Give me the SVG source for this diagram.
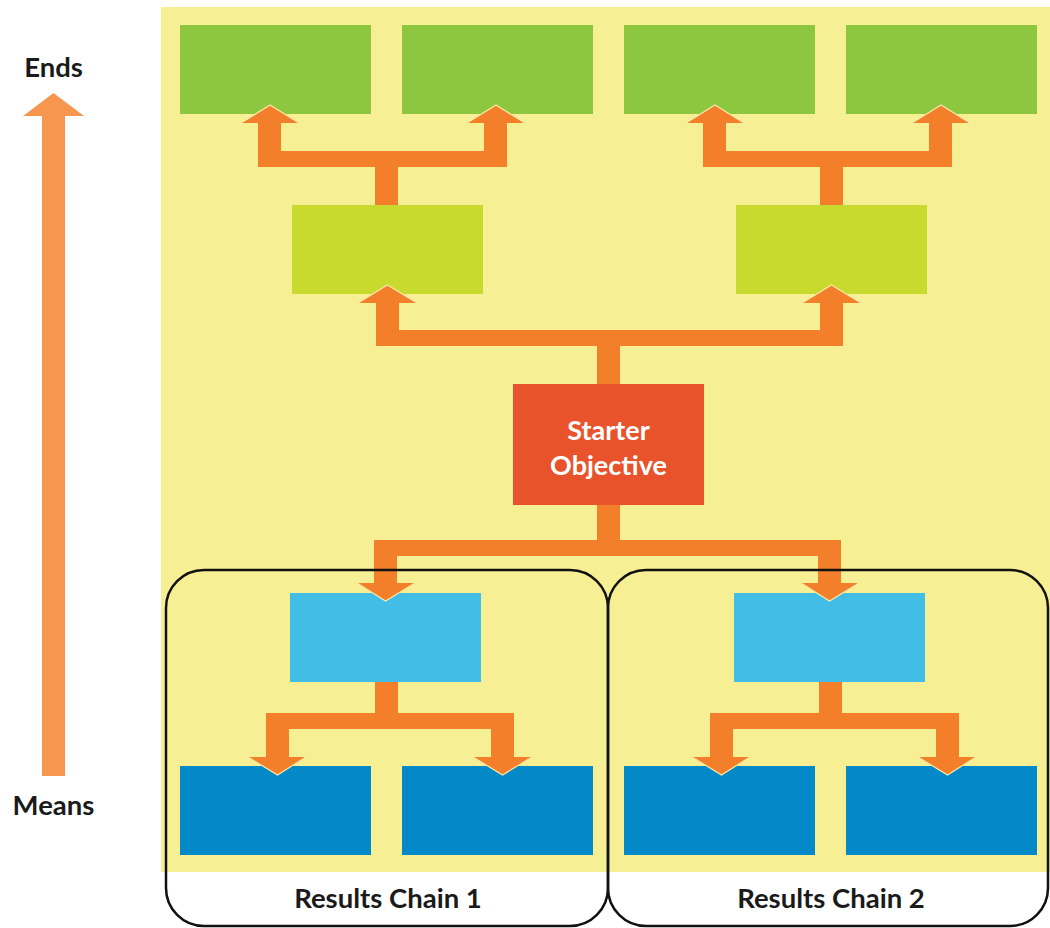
<svg xmlns="http://www.w3.org/2000/svg" width="1050" height="928" viewBox="0 0 1050 928">
<defs>
<style>
.bg{fill:#f6ef93}
.g{fill:#8dc63f}
.l{fill:#c8da2d}
.lb{fill:#41bde6}
.db{fill:#0389c7}
.o{fill:#f47f2a}
.edge{fill:none;stroke:#fbe9a6;stroke-width:1.2}
.chain{fill:none;stroke:#111;stroke-width:2.5}
.lbl{font-family:Lato,"Open Sans",sans-serif;font-weight:700;fill:#1a1a1a}
.st{font-family:Lato,"Open Sans",sans-serif;font-weight:700;fill:#fff;font-size:27px}
</style>
</defs>
<rect class="bg" x="161" y="7" width="889" height="865"/>
<g id="scale">
<polygon fill="#f7964f" points="53.5,93 84,116 65,116 65,776 42,776 42,116 23,116"/>
<text class="lbl" x="53.5" y="77" font-size="27.5" text-anchor="middle">Ends</text>
<text class="lbl" x="53.5" y="815" font-size="27.5" text-anchor="middle">Means</text>
</g>
<g id="ends1"><rect class="g" x="180" y="25" width="191" height="89"/></g>
<g id="ends2"><rect class="g" x="402" y="25" width="191" height="89"/></g>
<g id="ends3"><rect class="g" x="624" y="25" width="191" height="89"/></g>
<g id="ends4"><rect class="g" x="846" y="25" width="191" height="89"/></g>
<g id="mid1"><rect class="l" x="292" y="205" width="191" height="89"/></g>
<g id="mid2"><rect class="l" x="736" y="205" width="191" height="89"/></g>
<g id="starter">
<rect fill="#e8532b" x="513" y="384" width="191" height="121"/>
<text class="st" x="608.5" y="440" text-anchor="middle">Starter</text>
<text class="st" x="608.5" y="475" text-anchor="middle">Objective</text>
</g>
<g id="means1"><rect class="lb" x="290" y="593" width="191" height="89"/></g>
<g id="means2"><rect class="lb" x="734" y="593" width="191" height="89"/></g>
<g id="leaf1"><rect class="db" x="180" y="766" width="191" height="89"/></g>
<g id="leaf2"><rect class="db" x="402" y="766" width="191" height="89"/></g>
<g id="leaf3"><rect class="db" x="624" y="766" width="191" height="89"/></g>
<g id="leaf4"><rect class="db" x="846" y="766" width="191" height="89"/></g>
<g id="connectors">
<path class="o" d="M258,123 H281 V151 H484 V123 H507 V167 H398 V205 H375 V167 H258 Z"/>
<polygon class="o" points="241,123 270,105 299,123"/>
<polyline class="edge" points="241,123 270,105 299,123"/>
<polygon class="o" points="467,123 496,105 525,123"/>
<polyline class="edge" points="467,123 496,105 525,123"/>
<path class="o" d="M703,123 H726 V151 H929 V123 H952 V167 H843 V205 H820 V167 H703 Z"/>
<polygon class="o" points="686,123 715,105 744,123"/>
<polyline class="edge" points="686,123 715,105 744,123"/>
<polygon class="o" points="912,123 941,105 970,123"/>
<polyline class="edge" points="912,123 941,105 970,123"/>
<path class="o" d="M376,303 H399 V330 H820 V303 H843 V346 H620 V384 H597 V346 H376 Z"/>
<polygon class="o" points="358,303 387.5,285 417,303"/>
<polyline class="edge" points="358,303 387.5,285 417,303"/>
<polygon class="o" points="802,303 831.5,285 861,303"/>
<polyline class="edge" points="802,303 831.5,285 861,303"/>
<path class="o" d="M597,505 H620 V540 H841 V583 H818 V556 H397 V583 H374 V540 H597 Z"/>
<polygon class="o" points="357,583 385.5,601 415,583"/>
<polyline class="edge" points="357,583 385.5,601 415,583"/>
<polygon class="o" points="801,583 829.5,601 859,583"/>
<polyline class="edge" points="801,583 829.5,601 859,583"/>
<path class="o" d="M375,682 H398 V713 H514 V757 H491 V729 H289 V757 H266 V713 H375 Z"/>
<polygon class="o" points="248,757 277.5,775 306,757"/>
<polyline class="edge" points="248,757 277.5,775 306,757"/>
<polygon class="o" points="473,757 502.5,775 532,757"/>
<polyline class="edge" points="473,757 502.5,775 532,757"/>
<path class="o" d="M819,682 H842 V713 H959 V757 H936 V729 H733 V757 H710 V713 H819 Z"/>
<polygon class="o" points="692,757 721.5,775 750,757"/>
<polyline class="edge" points="692,757 721.5,775 750,757"/>
<polygon class="o" points="918,757 947.5,775 976,757"/>
<polyline class="edge" points="918,757 947.5,775 976,757"/>
</g>
<g id="chain1">
<rect class="chain" x="166" y="570" width="442" height="356" rx="38"/>
<text class="lbl" x="388" y="908" font-size="27.5" text-anchor="middle">Results Chain 1</text>
</g>
<g id="chain2">
<rect class="chain" x="608" y="570" width="440" height="356" rx="38"/>
<text class="lbl" x="831" y="908" font-size="27.5" text-anchor="middle">Results Chain 2</text>
</g>
</svg>
